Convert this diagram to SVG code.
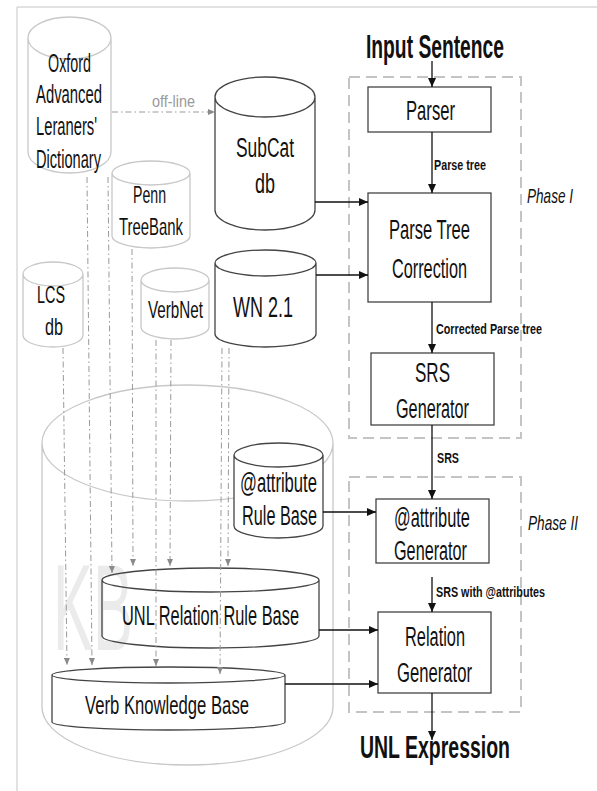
<svg xmlns="http://www.w3.org/2000/svg" width="597" height="791" viewBox="0 0 597 791">
<defs>
<style>
text{font-family:"Liberation Sans",Arial,sans-serif;fill:#111}
.l{font-size:27px}
.m{font-size:24px}
.s{font-size:14px;font-weight:bold}
.b{font-weight:bold}
.it{font-style:italic;font-size:21px}
.dk{fill:#fff;stroke:#444;stroke-width:1.3}
.lt{fill:#fff;stroke:#c8c8c8;stroke-width:1.3}
.no{fill:none}
.box{fill:#fff;stroke:#444;stroke-width:1.3}
.ph{fill:none;stroke:#c4c4c4;stroke-width:2;stroke-dasharray:11 6}
.ar{stroke:#111;stroke-width:1.3;fill:none}
.dd{stroke:#9a9a9a;stroke-width:1;fill:none;stroke-dasharray:6 3 1.5 3}
</style>
<marker id="ah" markerWidth="9" markerHeight="8" refX="9" refY="4" orient="auto" markerUnits="userSpaceOnUse"><path d="M0,0 L9,4 L0,8 z" fill="#111"/></marker>
<marker id="gh" markerWidth="7" markerHeight="6" refX="7" refY="3" orient="auto" markerUnits="userSpaceOnUse"><path d="M0,0 L7,3 L0,6 z" fill="#8a8a8a"/></marker>
</defs>
<rect width="597" height="791" fill="#fff"/>
<g id="frame" stroke="#d8d8d8" stroke-width="1.5"><line x1="17" y1="7" x2="597" y2="7"/><line x1="17" y1="7" x2="17" y2="791"/></g>

<g id="kb">
<path class="lt no" d="M42,443 V707 A145.5,58 0 0 0 333,707 V443 A145.5,58 0 0 0 42,443 A145.5,58 0 0 0 333,443" style="fill:none"/>
<text x="53" y="650" font-size="122" textLength="80" lengthAdjust="spacingAndGlyphs" style="fill:#ebebeb">KB</text>
</g>

<g id="phase1"><rect class="ph" x="349" y="77" width="172" height="361"/><text class="it" x="527" y="203" textLength="46" lengthAdjust="spacingAndGlyphs">Phase I</text></g>
<g id="phase2"><rect class="ph" x="349" y="477" width="172" height="235"/><text class="it" x="528" y="530" textLength="50" lengthAdjust="spacingAndGlyphs">Phase II</text></g>

<g id="oxford">
<path class="lt" d="M28,38 V152 A41.5,21 0 0 0 111,152 V38 A41.5,21 0 0 0 28,38 A41.5,21 0 0 0 111,38"/>
<text class="l" font-size="25" x="48" y="72" textLength="43" lengthAdjust="spacingAndGlyphs" style="font-size:25px">Oxford</text>
<text x="36" y="103" textLength="66" lengthAdjust="spacingAndGlyphs" style="font-size:25px">Advanced</text>
<text x="36" y="135" textLength="61" lengthAdjust="spacingAndGlyphs" style="font-size:25px">Leraners'</text>
<text x="36" y="168" textLength="65" lengthAdjust="spacingAndGlyphs" style="font-size:25px">Dictionary</text>
</g>

<g id="subcat">
<path class="dk" d="M215,97 V210 A50,20 0 0 0 315,210 V97 A50,20 0 0 0 215,97 A50,20 0 0 0 315,97"/>
<text class="l" x="236" y="157" textLength="58" lengthAdjust="spacingAndGlyphs">SubCat</text>
<text class="l" x="255" y="193" textLength="20" lengthAdjust="spacingAndGlyphs">db</text>
</g>

<g id="penn">
<path class="lt" d="M112,173 V236 A39,12 0 0 0 190,236 V173 A39,12 0 0 0 112,173 A39,12 0 0 0 190,173"/>
<text class="m" x="133" y="203" textLength="33" lengthAdjust="spacingAndGlyphs">Penn</text>
<text class="m" x="119" y="235" textLength="64" lengthAdjust="spacingAndGlyphs">TreeBank</text>
</g>

<g id="lcs">
<path class="lt" d="M23,274 V335 A30,12 0 0 0 83,335 V274 A30,12 0 0 0 23,274 A30,12 0 0 0 83,274"/>
<text class="m" x="37" y="303" textLength="28" lengthAdjust="spacingAndGlyphs">LCS</text>
<text class="m" x="45" y="335" textLength="18" lengthAdjust="spacingAndGlyphs">db</text>
</g>

<g id="verbnet">
<path class="lt" d="M141,280 V327 A34,12 0 0 0 209,327 V280 A34,12 0 0 0 141,280 A34,12 0 0 0 209,280"/>
<text class="m" x="148" y="318" textLength="55" lengthAdjust="spacingAndGlyphs">VerbNet</text>
</g>

<g id="wn">
<path class="dk" d="M215,263 V334 A50.5,13 0 0 0 316,334 V263 A50.5,13 0 0 0 215,263 A50.5,13 0 0 0 316,263"/>
<text x="233" y="317" textLength="60" lengthAdjust="spacingAndGlyphs" style="font-size:29px">WN 2.1</text>
</g>

<g id="attrRB">
<path class="dk" d="M234,455 V526 A44.5,12 0 0 0 323,526 V455 A44.5,12 0 0 0 234,455 A44.5,12 0 0 0 323,455"/>
<text class="l" x="240" y="492" textLength="77" lengthAdjust="spacingAndGlyphs">@attribute</text>
<text class="l" x="242" y="525" textLength="75" lengthAdjust="spacingAndGlyphs">Rule Base</text>
</g>

<g id="unlRB">
<path class="dk" style="fill:none" d="M102,580 V636 A108.5,12 0 0 0 319,636 V580 A108.5,12 0 0 0 102,580 A108.5,12 0 0 0 319,580"/>
<text class="l" x="122" y="625" textLength="177" lengthAdjust="spacingAndGlyphs">UNL Relation Rule Base</text>
</g>

<g id="verbKB">
<path class="dk" style="fill:none" d="M52,675 V722 A116.5,8 0 0 0 285,722 V675 A116.5,8 0 0 0 52,675 A116.5,8 0 0 0 285,675"/>
<text x="85" y="714" textLength="164" lengthAdjust="spacingAndGlyphs" style="font-size:26px">Verb Knowledge Base</text>
</g>

<g id="input"><text class="b" x="366" y="58" textLength="138" lengthAdjust="spacingAndGlyphs" style="font-size:34px">Input Sentence</text></g>
<g id="parser"><rect class="box" x="368" y="87" width="123" height="45"/><text x="406" y="120" textLength="49" lengthAdjust="spacingAndGlyphs" style="font-size:28px">Parser</text></g>
<g id="ptc"><rect class="box" x="368" y="193" width="123" height="109"/>
<text x="389" y="239" textLength="81" lengthAdjust="spacingAndGlyphs" style="font-size:28px">Parse Tree</text>
<text x="392" y="278" textLength="75" lengthAdjust="spacingAndGlyphs" style="font-size:28px">Correction</text></g>
<g id="srs"><rect class="box" x="371" y="353" width="123" height="72"/>
<text class="l" x="415" y="382" textLength="35" lengthAdjust="spacingAndGlyphs">SRS</text>
<text class="l" x="396" y="418" textLength="73" lengthAdjust="spacingAndGlyphs">Generator</text></g>
<g id="attrGen"><rect class="box" x="376" y="499" width="113" height="64"/>
<text x="394" y="527" textLength="76" lengthAdjust="spacingAndGlyphs" style="font-size:28px">@attribute</text>
<text class="l" x="394" y="560" textLength="73" lengthAdjust="spacingAndGlyphs">Generator</text></g>
<g id="relGen"><rect class="box" x="378" y="612" width="113" height="81"/>
<text class="l" x="405" y="646" textLength="60" lengthAdjust="spacingAndGlyphs">Relation</text>
<text class="l" x="397" y="682" textLength="75" lengthAdjust="spacingAndGlyphs">Generator</text></g>
<g id="output"><text class="b" x="360" y="758" textLength="150" lengthAdjust="spacingAndGlyphs" style="font-size:32px">UNL Expression</text></g>

<g id="connectors">
<line class="ar" x1="432" y1="61" x2="432" y2="87" marker-end="url(#ah)"/>
<line class="ar" x1="432" y1="132" x2="432" y2="193" marker-end="url(#ah)"/>
<line class="ar" x1="315" y1="202" x2="368" y2="202" marker-end="url(#ah)"/>
<line class="ar" x1="316" y1="275" x2="368" y2="275" marker-end="url(#ah)"/>
<line class="ar" x1="432" y1="302" x2="432" y2="353" marker-end="url(#ah)"/>
<line class="ar" x1="432" y1="425" x2="432" y2="499" marker-end="url(#ah)"/>
<line class="ar" x1="323" y1="512" x2="376" y2="512" marker-end="url(#ah)"/>
<line class="ar" x1="432" y1="577" x2="432" y2="612" marker-end="url(#ah)"/>
<line class="ar" x1="319" y1="630" x2="378" y2="630" marker-end="url(#ah)"/>
<line class="ar" x1="285" y1="684" x2="378" y2="684" marker-end="url(#ah)"/>
<line class="ar" x1="432" y1="693" x2="432" y2="740" marker-end="url(#ah)"/>
<line class="dd" x1="112" y1="112" x2="215" y2="112" marker-end="url(#gh)"/>
<line class="dd" x1="63" y1="348" x2="67" y2="665" marker-end="url(#gh)"/>
<line class="dd" x1="87" y1="177" x2="92" y2="665" marker-end="url(#gh)"/>
<line class="dd" x1="108" y1="177" x2="112" y2="573" marker-end="url(#gh)"/>
<line class="dd" x1="132" y1="249" x2="133" y2="566" marker-end="url(#gh)"/>
<line class="dd" x1="156" y1="340" x2="156" y2="666" marker-end="url(#gh)"/>
<line class="dd" x1="171" y1="340" x2="170" y2="566" marker-end="url(#gh)"/>
<line class="dd" x1="222" y1="348" x2="220" y2="674" marker-end="url(#gh)"/>
<line class="dd" x1="229" y1="348" x2="228" y2="566" marker-end="url(#gh)"/>
<text x="152" y="107" textLength="43" lengthAdjust="spacingAndGlyphs" style="font-size:17px;fill:#9a9a9a">off-line</text>
<text class="s" x="434" y="170" textLength="52" lengthAdjust="spacingAndGlyphs">Parse tree</text>
<text class="s" x="436" y="334" textLength="106" lengthAdjust="spacingAndGlyphs">Corrected Parse tree</text>
<text class="s" x="437" y="463" textLength="22" lengthAdjust="spacingAndGlyphs">SRS</text>
<text class="s" x="436" y="597" textLength="109" lengthAdjust="spacingAndGlyphs">SRS with @attributes</text>
</g>
</svg>
